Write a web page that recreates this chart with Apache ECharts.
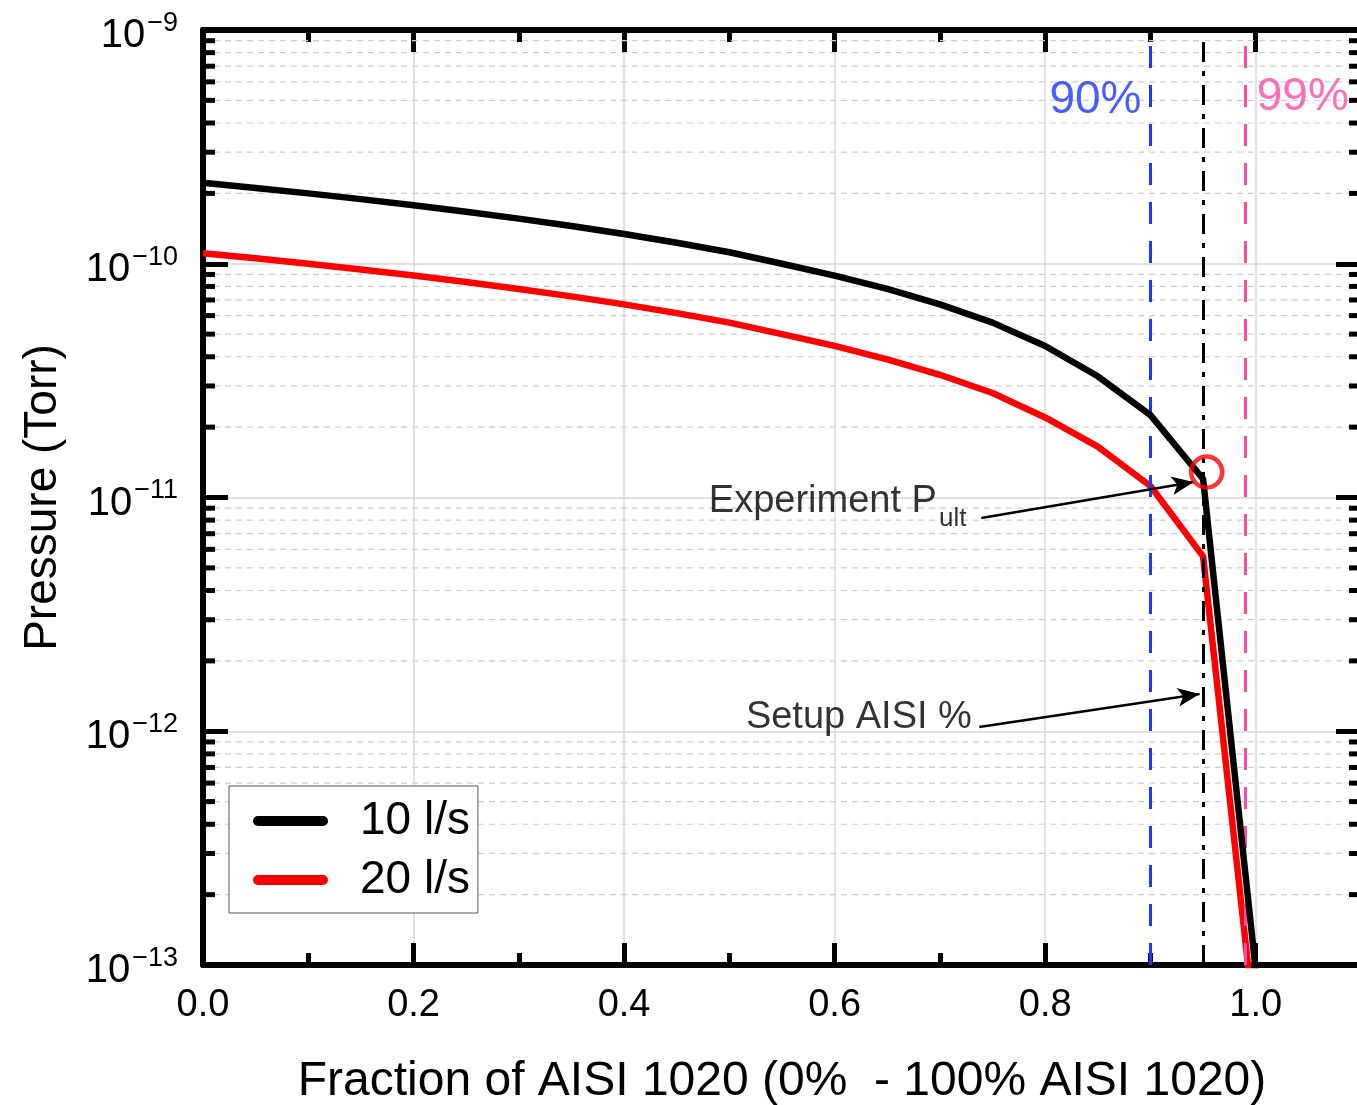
<!DOCTYPE html>
<html>
<head>
<meta charset="utf-8">
<script src="https://cdn.jsdelivr.net/npm/echarts@6/dist/echarts.min.js"></script>
<style>
html,body{margin:0;padding:0;background:#fff;overflow:hidden;}
#chart{width:1357px;height:1105px;}
</style>
</head>
<body>
<div id="chart"></div>
<script>
// ---- data ----
const fractions = [0, 0.05, 0.1, 0.15, 0.2, 0.25, 0.3, 0.35, 0.4, 0.45, 0.5, 0.55, 0.6, 0.65, 0.7, 0.75, 0.8, 0.85, 0.9, 0.95, 1.0];
const pressure10 = [2.22e-10, 2.11e-10, 2.0e-10, 1.89e-10, 1.78e-10, 1.67e-10, 1.56e-10, 1.45e-10, 1.34e-10, 1.23e-10, 1.12e-10, 1.0e-10, 8.9e-11, 7.8e-11, 6.7e-11, 5.6e-11, 4.45e-11, 3.3e-11, 2.25e-11, 1.2e-11, 9.5e-14];
const pressure20 = [1.11e-10, 1.055e-10, 1.0e-10, 9.45e-11, 8.9e-11, 8.35e-11, 7.8e-11, 7.25e-11, 6.7e-11, 6.15e-11, 5.6e-11, 5.0e-11, 4.45e-11, 3.9e-11, 3.35e-11, 2.8e-11, 2.2e-11, 1.65e-11, 1.12e-11, 5.6e-12, 5e-14];
const seriesNames = ['10 l/s', '20 l/s'];
const xTickLabels = ['0.0', '0.2', '0.4', '0.6', '0.8', '1.0'];
const yExponents = [-13, -12, -11, -10, -9];
const refFractions = [0.9, 0.95, 0.99];          // 90%, setup, 99%
const refLabels = ['90%', '99%'];
const experimentPoint = [0.9534, 1.285e-11];
const arrowExperiment = [[0.7393, 8.17e-12], [0.941, 1.164e-11]];
const arrowSetup = [[0.7374, 1.042e-12], [0.9467, 1.443e-12]];
const textExperiment = [0.4805, 9.57e-12];
const textSetup = [0.5157, 1.14e-12];
const text90 = [0.8915, 5.02e-10];
const text99 = [1.001, 5.17e-10];

// minor log positions (2..9 x 10^n)
const yMinor = [];
for (let e = yExponents[0]; e < yExponents[yExponents.length - 1]; e++) {
  for (let k = 2; k <= 9; k++) yMinor.push([0, k * Math.pow(10, e)]);
}

const FONT = 'Liberation Sans, Arial, sans-serif';
const chart = echarts.init(document.getElementById('chart'));

const xAxisCommon = {
  type: 'value', min: 0, max: 1.1, interval: 0.2,
  axisLine: {show: true, onZero: false, lineStyle: {color: '#000', width: 6}},
  axisTick: {show: true, inside: true, length: 22, lineStyle: {color: '#000', width: 5}},
  minorTick: {show: true, splitNumber: 2, length: 12, lineStyle: {color: '#000', width: 5}},
};
const yAxisCommon = {
  type: 'log', logBase: 10, min: 1e-13, max: 1e-9,
  axisLine: {show: true, onZero: false, lineStyle: {color: '#000', width: 6}},
  axisTick: {show: true, inside: true, length: 25, lineStyle: {color: '#000', width: 5}},
};

const option = {
  animation: false,
  backgroundColor: '#fff',
  grid: {left: 203, right: -4, top: 30, bottom: 140, containLabel: false, outerBoundsMode: 'none'},
  legend: {
    data: seriesNames,
    orient: 'vertical', left: 229, top: 786,
    backgroundColor: '#fff', borderColor: '#555', borderWidth: 1,
    padding: [12, 8, 10, 24], itemGap: 13,
    itemWidth: 75, itemHeight: 11,
    icon: 'path://M0,5 A5,5 0 0 1 5,0 L70,0 A5,5 0 0 1 75,5 A5,5 0 0 1 70,10 L5,10 A5,5 0 0 1 0,5 Z',
    textStyle: {fontFamily: FONT, fontSize: 46, color: '#000', padding: [0, 0, 0, 27]},
    selectedMode: false
  },
  xAxis: [
    Object.assign({}, xAxisCommon, {
      position: 'bottom',
      name: 'Fraction of AISI 1020 (0%  - 100% AISI 1020)',
      nameLocation: 'middle', nameGap: 93,
      nameTextStyle: {fontFamily: FONT, fontSize: 48, color: '#000'},
      axisLabel: {
        show: true, margin: 22, fontFamily: FONT, fontSize: 38, color: '#000',
        showMaxLabel: false,
        formatter: function (v) {
          const i = Math.round(v / 0.2);
          return (Math.abs(v - i * 0.2) < 1e-9 && i < xTickLabels.length) ? xTickLabels[i] : '';
        }
      },
      splitLine: {show: true, lineStyle: {color: '#d9d9d9', width: 1.5}}
    }),
    Object.assign({}, xAxisCommon, {
      position: 'top', axisLabel: {show: false}, splitLine: {show: false}
    })
  ],
  yAxis: [
    Object.assign({}, yAxisCommon, {
      position: 'left',
      name: 'Pressure (Torr)', nameLocation: 'middle', nameGap: 137,
      nameTextStyle: {fontFamily: FONT, fontSize: 46, color: '#000'},
      axisLabel: {
        show: true, margin: 25, color: '#000',
        formatter: function (v) {
          const e = Math.round(Math.log10(v));
          return '{b|10}{s|\u2212' + Math.abs(e) + '}';
        },
        rich: {
          b: {fontFamily: FONT, fontSize: 40, color: '#000', lineHeight: 40, padding: [12, 0, 0, 0]},
          s: {fontFamily: FONT, fontSize: 27, color: '#000', verticalAlign: 'top', padding: [0, 0, 0, 2]}
        }
      },
      splitLine: {show: true, lineStyle: {color: '#d9d9d9', width: 1.5}}
    }),
    Object.assign({}, yAxisCommon, {
      position: 'right', axisLabel: {show: false}, splitLine: {show: false}
    })
  ],
  series: [
    {
      name: 'minor', type: 'custom', coordinateSystem: 'cartesian2d',
      xAxisIndex: 0, yAxisIndex: 0, z: 1, silent: true,
      data: yMinor, encode: {x: 0, y: 1},
      renderItem: function (params, api) {
        const cs = params.coordSys;
        const y = api.coord([0, api.value(1)])[1];
        return {
          type: 'group',
          children: [
            {type: 'line', shape: {x1: cs.x, y1: y, x2: cs.x + cs.width, y2: y},
              style: {stroke: '#cfcfcf', lineWidth: 1.2, lineDash: [6, 5]}},
            {type: 'line', shape: {x1: cs.x, y1: y, x2: cs.x + 12, y2: y},
              style: {stroke: '#000', lineWidth: 5}},
            {type: 'line', shape: {x1: cs.x + cs.width - 12, y1: y, x2: cs.x + cs.width, y2: y},
              style: {stroke: '#000', lineWidth: 5}}
          ]
        };
      }
    },
    {
      name: seriesNames[0], type: 'line', z: 5,
      data: fractions.map((x, i) => [x, pressure10[i]]),
      showSymbol: false, symbol: 'none', clip: true,
      lineStyle: {color: '#000', width: 6.5}, itemStyle: {color: '#000'},
      markLine: {
        silent: true, symbol: ['none', 'none'], label: {show: false},
        data: [
          {xAxis: refFractions[0], lineStyle: {color: '#1a38ff', width: 3, type: [22, 17]}},
          {xAxis: refFractions[1], lineStyle: {color: '#000', width: 3, type: [20, 9, 5, 9]}},
          {xAxis: refFractions[2], lineStyle: {color: '#ff4aa8', width: 3, type: [22, 17]}},
          [{coord: arrowExperiment[0], symbol: 'none'},
           {coord: arrowExperiment[1], symbol: 'arrow', symbolSize: [14, 22], lineStyle: {color: '#000', width: 2.5, type: 'solid'}}],
          [{coord: arrowSetup[0], symbol: 'none'},
           {coord: arrowSetup[1], symbol: 'arrow', symbolSize: [14, 22], lineStyle: {color: '#000', width: 2.5, type: 'solid'}}]
        ]
      }
    },
    {
      name: seriesNames[1], type: 'line', z: 4,
      data: fractions.map((x, i) => [x, pressure20[i]]),
      showSymbol: false, symbol: 'none', clip: true,
      lineStyle: {color: '#ff0000', width: 6.5}, itemStyle: {color: '#ff0000'}
    },
    {
      name: 'experiment', type: 'scatter', z: 6, silent: true,
      data: [experimentPoint],
      symbol: 'circle', symbolSize: 31,
      itemStyle: {color: 'rgba(0,0,0,0)', borderColor: '#ff0000', borderWidth: 4.5}
    },
    {
      name: 'annotations', type: 'scatter', z: 7, silent: true,
      symbolSize: 0, itemStyle: {color: 'rgba(0,0,0,0)'},
      data: [
        {value: textExperiment, label: {show: true, position: 'right', distance: 0,
          formatter: '{a|Experiment P}{s|ult}',
          rich: {
            a: {fontFamily: FONT, fontSize: 38, color: '#000', lineHeight: 40},
            s: {fontFamily: FONT, fontSize: 26, color: '#000', lineHeight: 60, verticalAlign: 'bottom', padding: [0, 0, 0, 2]}
          }}},
        {value: textSetup, label: {show: true, position: 'right', distance: 0,
          formatter: 'Setup AISI %', fontFamily: FONT, fontSize: 38, color: '#000'}},
        {value: text90, label: {show: true, position: 'left', distance: 0,
          formatter: refLabels[0], fontFamily: FONT, fontSize: 46, color: '#1a38ff'}},
        {value: text99, label: {show: true, position: 'right', distance: 0,
          formatter: refLabels[1], fontFamily: FONT, fontSize: 46, color: '#ff4aa8'}}
      ]
    }
  ]
};
chart.setOption(option);
</script>
</body>
</html>
